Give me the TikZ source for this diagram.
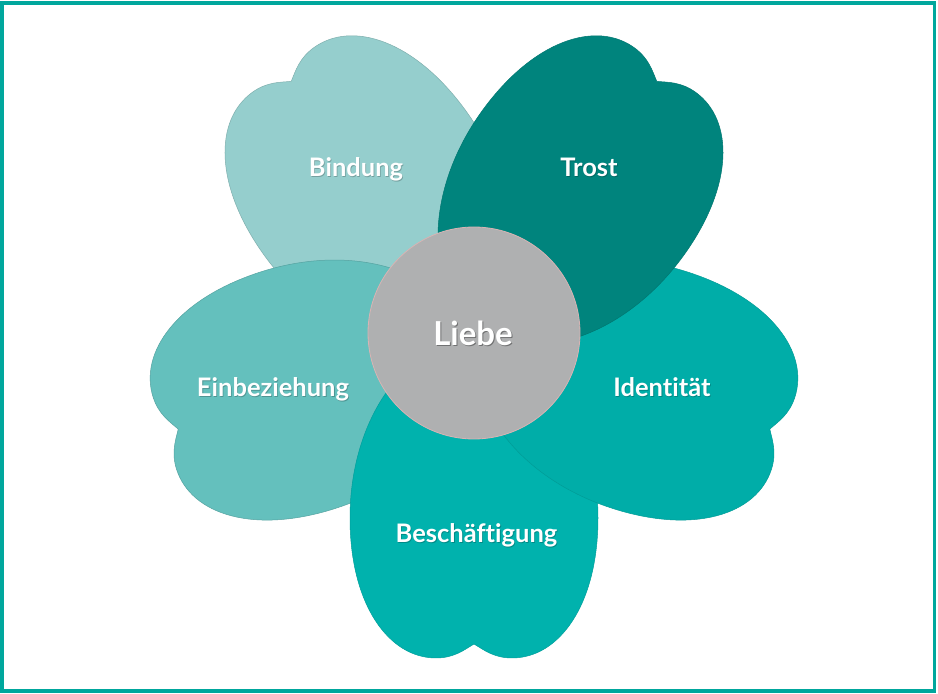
\documentclass[tikz,border=0pt]{standalone}
\usepackage{fontspec}
\setmainfont{Lato}[Ligatures=CommonOff]
\definecolor{cBind}{HTML}{95CECD}
\definecolor{cTrost}{HTML}{00847D}
\definecolor{cIdent}{HTML}{00ADA8}
\definecolor{cBesch}{HTML}{00B2AD}
\definecolor{cEinb}{HTML}{64C0BD}
\definecolor{cCore}{HTML}{AFB0B1}
\definecolor{cCoreEdge}{HTML}{D8B4B4}
\definecolor{cFrame}{HTML}{00A79D}
\tikzset{
  flowerpetal/.pic={
    \path[pic actions]
      (0,8) .. controls (69,8) and (124,87) .. (124,185)
      .. controls (124,272) and (85,325) .. (38,325)
      .. controls (20,325) and (10,317) .. (0,311)
      .. controls (-10,317) and (-20,325) .. (-38,325)
      .. controls (-85,325) and (-124,272) .. (-124,185)
      .. controls (-124,87) and (-69,8) .. (0,8) -- cycle;
  },
  lbltxt/.style={text=white, anchor=base, inner sep=0pt, font=\fontsize{25.5}{30}\selectfont\bfseries},
  lblshadow/.style={text=black, opacity=0.22, anchor=base, inner sep=0pt, font=\fontsize{25.5}{30}\selectfont\bfseries},
  coretxt/.style={text=white, anchor=base, inner sep=0pt, font=\fontsize{33}{38}\selectfont\bfseries},
  coreshadow/.style={text=black, opacity=0.35, anchor=base, inner sep=0pt, font=\fontsize{33}{38}\selectfont\bfseries},
}
\begin{document}
\begin{tikzpicture}[x=1pt, y=1pt]
\useasboundingbox (0,0) rectangle (938,694);
\fill[white] (0,0) rectangle (938,694);
% petals, bottom to top
\pic[rotate=36,   fill=cBind,  draw=cBind!85!black,  line width=0.5] at (474,361) {flowerpetal};
\pic[rotate=108,  fill=cEinb,  draw=cEinb!85!black,  line width=0.5] at (474,361) {flowerpetal};
\pic[rotate=180,  fill=cBesch, draw=cBesch!90!black, line width=0.5] at (474,361) {flowerpetal};
\pic[rotate=-108, fill=cIdent, draw=cIdent!90!black, line width=0.5] at (474,361) {flowerpetal};
\pic[rotate=-36,  fill=cTrost, draw=cTrost!90!black, line width=0.5] at (474,361) {flowerpetal};
% centre
\node[circle, fill=cCore, draw=cCoreEdge, line width=0.8, minimum size=212pt, inner sep=0pt] (core) at (474,361) {};
% labels
\node[lblshadow] at (356.8,516.5) {Bindung};
\node[lbltxt] (bindung) at (356,517.3) {Bindung};
\node[lblshadow] at (589.8,516.5) {Trost};
\node[lbltxt] (trost) at (589,517.3) {Trost};
\node[lblshadow] at (662.8,296.5) {Identität};
\node[lbltxt] (identitaet) at (662,297.3) {Identität};
\node[lblshadow] at (477.3,150.5) {Beschäftigung};
\node[lbltxt] (beschaeftigung) at (476.5,151.3) {Beschäftigung};
\node[lblshadow] at (273.8,296.5) {Einbeziehung};
\node[lbltxt] (einbeziehung) at (273,297.3) {Einbeziehung};
\node[coreshadow] at (474,347) {Liebe};
\node[coretxt] (liebe) at (473,348) {Liebe};
% frame
\draw[cFrame, line width=3.5] (1.75,3) rectangle (934.25,691);
\end{tikzpicture}
\end{document}
